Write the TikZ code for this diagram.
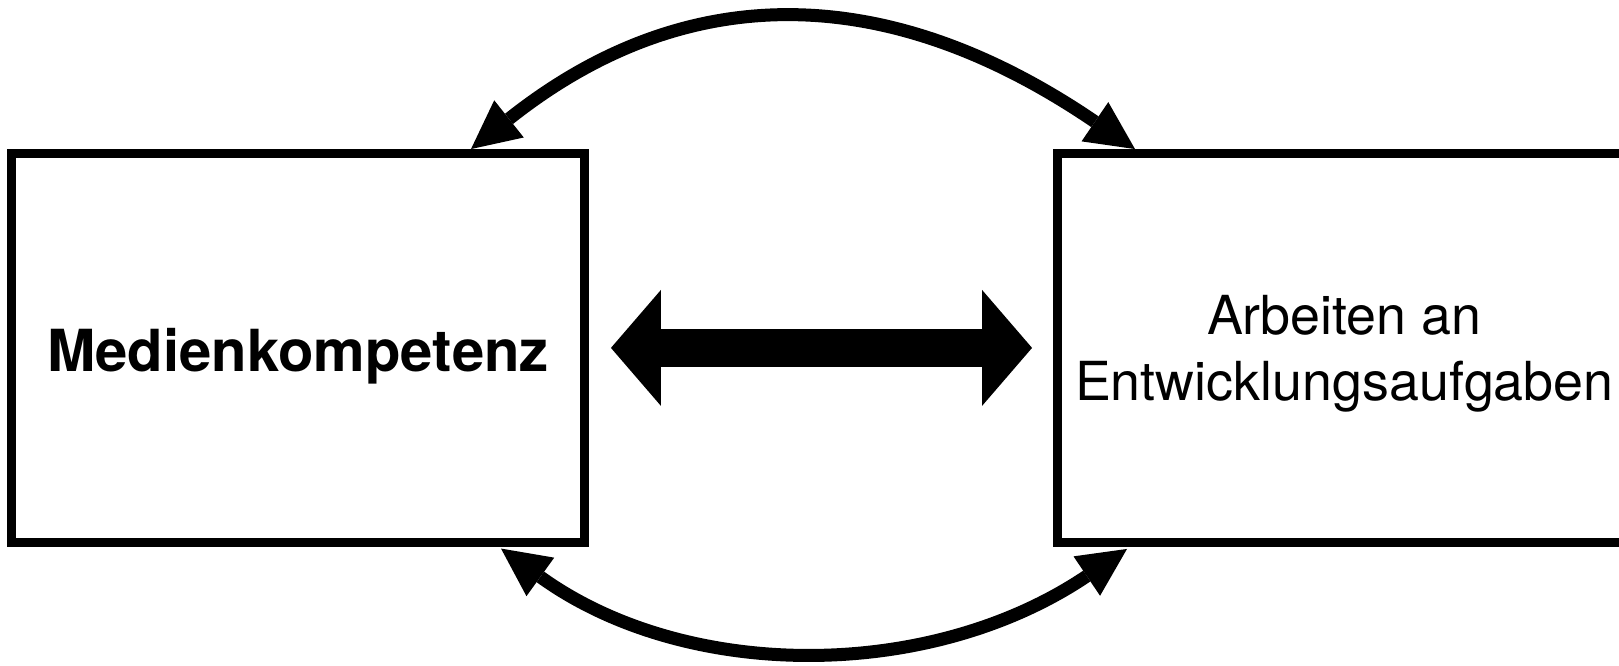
\documentclass[tikz,border=0pt]{standalone}
\usepackage{fontspec}
\setmainfont{TeX Gyre Heros}
\usetikzlibrary{arrows.meta}
\begin{document}
\begin{tikzpicture}[x=0.5pt,y=0.5pt,
  box/.style={draw=black, line width=4.25pt, rectangle, minimum width=286.5pt, minimum height=194.6pt, inner sep=0pt},
  curvearrow/.style={line width=6.5pt, {Triangle[length=24.25pt,width=23.75pt,line width=0pt]}-{Triangle[length=24.25pt,width=23.75pt,line width=0pt]}},
  blockarrow/.style={line width=19pt, {Triangle[length=25pt,width=58pt,line width=0pt]}-{Triangle[length=25pt,width=58pt,line width=0pt]}}
]
\useasboundingbox (0,0) rectangle (1619,665);
\clip (0,0) rectangle (1619,665);
\node[box, font=\fontsize{29pt}{34pt}\selectfont\bfseries, text height=23.6pt, text depth=0pt] (mk) at (298,317.1) {Medienkompetenz};
\node[box, align=center, font=\fontsize{26.9pt}{32.75pt}\selectfont, text depth=0pt] (ea) at (1344.2,317.1) {Arbeiten an\\Entwicklungsaufgaben};
\draw[curvearrow] ([xshift=86.5pt]mk.north) .. controls +(215.8,171.3) and +(-246.6,168) .. ([xshift=-104.6pt]ea.north);
\draw[curvearrow] ([xshift=101.5pt,yshift=-0.9pt]mk.south) .. controls +(185,-133.3) and +(-197,-132.8) .. ([xshift=-108.6pt,yshift=-1.1pt]ea.south);
\draw[blockarrow, shorten <=11.1pt, shorten >=10.7pt] (mk.east) -- (ea.west);
\end{tikzpicture}
\end{document}
